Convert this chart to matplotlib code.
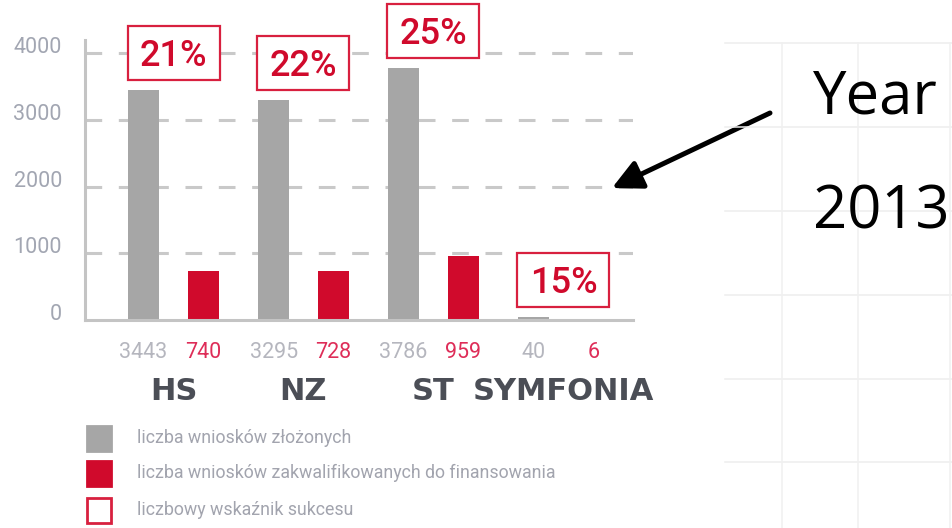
import matplotlib
matplotlib.use('Agg')
import matplotlib.pyplot as plt
import matplotlib.patches as mpatches
from matplotlib.lines import Line2D
from matplotlib.transforms import Affine2D, ScaledTranslation
import numpy as np

# ---- data ----
categories = ['HS', 'NZ', 'ST', 'SYMFONIA']
submitted = [3443, 3295, 3786, 40]
qualified = [740, 728, 959, 6]
success_rate = ['21%', '22%', '25%', '15%']
y_ticks = [0, 1000, 2000, 3000, 4000]
legend_labels = ['liczba wniosków złożonych',
                 'liczba wniosków zakwalifikowanych do finansowania',
                 'liczbowy wskaźnik sukcesu']
year_text = ['Year', '2013']

# ---- style ----
W, H, DPI = 952, 528, 100
GRAY = '#a6a6a6'
RED = '#d00a2c'
BOX_RED = '#d8203f'
TXT_GRAY = '#b5b6be'
NUM_RED = '#de2d58'
TICK_COL = '#a2a6b2'
CAT_COL = '#4b4e56'
LEG_COL = '#a2a4ae'
FONT = ['Roboto', 'DejaVu Sans']

plt.rcParams['lines.scale_dashes'] = False
plt.rcParams['font.family'] = FONT

fig = plt.figure(figsize=(W / DPI, H / DPI), dpi=DPI)
fig.patch.set_facecolor('white')


def fx(x):
    return x / W


def fy(y):
    return 1 - y / H


PT = 72.0 / DPI  # points per pixel

ax = fig.add_axes([fx(85), fy(320), fx(633) - fx(85), fy(40) - fy(320)])
x = np.arange(len(categories))
off = 0.23
bw = 0.238
ax.bar(x - off, submitted, bw, color=GRAY, zorder=2)
ax.bar(x + off, qualified, bw, color=RED, zorder=2)
ax.set_xlim(-0.681, 3.535)
ax.set_ylim(0, 4200)

for t in y_ticks[1:]:
    ax.axhline(t, color='#c9c9c9', lw=2.2, ls=(0, (12, 12)), zorder=0)

for s in ['top', 'right']:
    ax.spines[s].set_visible(False)
for s in ['left', 'bottom']:
    ax.spines[s].set_color('#c4c4c4')
    ax.spines[s].set_linewidth(2.2)

ax.set_xticks([])
ax.set_yticks(y_ticks)
ax.set_yticklabels([str(t) for t in y_ticks])
ax.tick_params(axis='y', length=0, pad=23 * PT, labelcolor=TICK_COL,
               labelsize=15.5)
for lbl in ax.get_yticklabels():
    lbl.set_va('baseline')

# value labels below bars
for i in range(len(categories)):
    ax.annotate(str(submitted[i]), xy=(x[i] - off, 0), xytext=(0, -32 * PT),
                textcoords='offset points', ha='center', va='center',
                fontsize=15.5, color=TXT_GRAY, annotation_clip=False)
    ax.annotate(str(qualified[i]), xy=(x[i] + off, 0), xytext=(0, -32 * PT),
                textcoords='offset points', ha='center', va='center',
                fontsize=15.5, color=NUM_RED, annotation_clip=False)
    ax.annotate(categories[i], xy=(x[i], 0), xytext=(0, -72 * PT),
                textcoords='offset points', ha='center', va='center',
                fontsize=22, color=CAT_COL, fontweight='bold',
                family=['DejaVu Sans'], annotation_clip=False)

# success-rate boxes above the grey bars
GAP, BW_PX, BH_PX = 10, 92, 54
for i in range(len(categories)):
    tr = Affine2D() + ScaledTranslation(x[i], submitted[i], ax.transData)
    rect = mpatches.Rectangle((-BW_PX / 2, GAP), BW_PX, BH_PX, transform=tr,
                              facecolor='white', edgecolor=BOX_RED, lw=1.6,
                              zorder=5, clip_on=False)
    ax.add_artist(rect)
    ax.annotate(success_rate[i], xy=(x[i], submitted[i]),
                xytext=(0, (GAP + BH_PX / 2 - 13) * PT),
                textcoords='offset points', ha='center', va='baseline',
                fontsize=26, color=RED, fontweight='medium', zorder=6,
                annotation_clip=False)

# legend (manual)
leg_y = [438, 473, 510]
leg_fc = [GRAY, RED, 'white']
leg_ec = [GRAY, RED, BOX_RED]
for yy, fc, ec, lab in zip(leg_y, leg_fc, leg_ec, legend_labels):
    sq = mpatches.Rectangle((fx(87), fy(yy + 12.5)), fx(24), 25 / H,
                            transform=fig.transFigure, facecolor=fc,
                            edgecolor=ec, lw=2.0)
    fig.add_artist(sq)
    fig.text(fx(137), fy(yy), lab, fontsize=12.8, color=LEG_COL,
             va='center', ha='left')

# faint background grid on the right
for yy in [43, 127, 211, 295, 379, 462]:
    fig.add_artist(Line2D([fx(725), 1], [fy(yy), fy(yy)],
                          transform=fig.transFigure, color='#eeeeee', lw=1.1))
for xx in [782, 858, 950]:
    fig.add_artist(Line2D([fx(xx), fx(xx)], [fy(43), 0],
                          transform=fig.transFigure, color='#f0f0f0', lw=1.1))

# arrow
arrow = mpatches.FancyArrowPatch((fx(770), fy(113)), (fx(612), fy(188)),
                                 transform=fig.transFigure,
                                 arrowstyle='-|>,head_length=0.9,head_width=0.45',
                                 mutation_scale=20, lw=3.6, color='black',
                                 shrinkA=0, shrinkB=0)
fig.add_artist(arrow)

fig.text(fx(813), fy(113), year_text[0], fontsize=43, color='black',
         va='baseline', ha='left', family=['Open Sans', 'DejaVu Sans'])
fig.text(fx(813), fy(228), year_text[1], fontsize=43, color='black',
         va='baseline', ha='left', family=['Open Sans', 'DejaVu Sans'])

fig.savefig('out.png', dpi=DPI, facecolor='white')
